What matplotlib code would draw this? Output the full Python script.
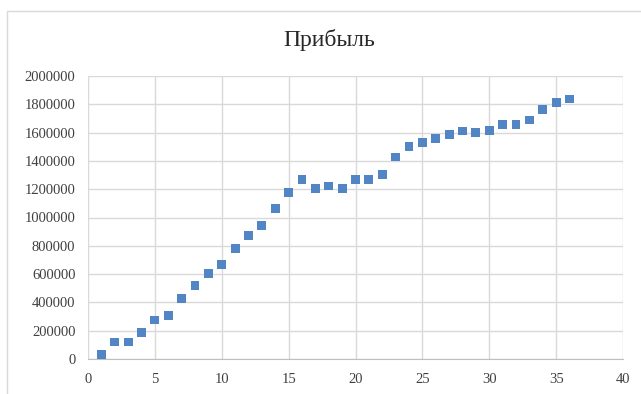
import matplotlib.pyplot as plt
from matplotlib.patches import Rectangle

# data
periods = list(range(1, 37))
profit = [
    30000, 120000, 120000, 190000, 275000, 308000, 426000, 520000, 602000,
    670000, 783000, 875000, 941000, 1064000, 1176000, 1270000, 1207000,
    1223000, 1207000, 1270000, 1270000, 1306000, 1428000, 1501000, 1529000,
    1558000, 1584000, 1612000, 1598000, 1616000, 1659000, 1659000, 1689000,
    1762000, 1814000, 1838000,
]
title = "Прибыль"
x_ticks = list(range(0, 45, 5))
y_ticks = list(range(0, 2200000, 200000))

plt.rcParams["font.family"] = ["Liberation Serif", "DejaVu Serif"]

W, H = 641, 394
fig = plt.figure(figsize=(W / 100, H / 100), dpi=100)
fig.patch.set_facecolor("white")

# chart frame (Excel-style chart area border)
fig.patches.append(
    Rectangle((7 / W, -0.1), 1.0, 1.1 - 11 / H, transform=fig.transFigure,
              fill=False, edgecolor="#d9d9d9", linewidth=1.0)
)

ax = fig.add_axes([88 / W, 1 - 359 / H, (623 - 88) / W, (359 - 76) / H])

ax.scatter(periods, profit, marker="s", s=40, color="#5185c4",
           edgecolors="none", zorder=3)

ax.set_xlim(0, 40)
ax.set_ylim(0, 2000000)
ax.set_xticks(x_ticks)
ax.set_yticks(y_ticks)
ax.set_yticklabels([str(v) for v in y_ticks])
ax.grid(True, color="#d9d9d9", linewidth=1.0)
ax.set_axisbelow(True)

for side in ("top", "right", "left"):
    ax.spines[side].set_visible(False)
ax.spines["bottom"].set_color("#bfbfbf")
ax.tick_params(axis="both", length=0, labelsize=10.5, colors="#404040")
ax.tick_params(axis="y", pad=9)
ax.tick_params(axis="x", pad=10)

fig.text(329 / W, 1 - 40 / H, title, ha="center", va="center",
         fontsize=17, color="#262626")

fig.savefig("out.png", dpi=100)
